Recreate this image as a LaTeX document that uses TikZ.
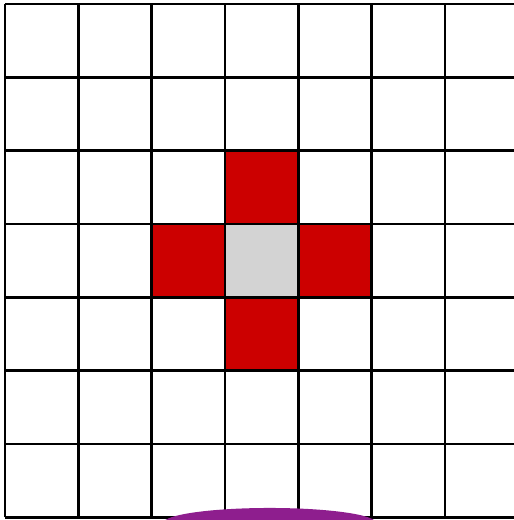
\documentclass[tikz,border=0pt]{standalone}
\usepackage{xcolor}
\usepackage{tikz}
\definecolor{cellred}{RGB}{204,0,0}
\definecolor{cellgray}{RGB}{211,211,211}
\definecolor{blobpurple}{RGB}{142,30,142}

\begin{document}
\begin{tikzpicture}[
    x=1cm, y=1cm,
    gridline/.style={line width=1pt, black},
    neighbour/.style={fill=cellred},
    centre/.style={fill=cellgray}
]

% Frame
\useasboundingbox (-0.068,-0.037) rectangle (6.941,7.055);
\clip (-0.068,-0.037) rectangle (6.941,7.055);
\fill[white] (-0.068,-0.037) rectangle (6.941,7.055);

% Cells
\fill[centre] (3,3) rectangle ++(1,1);
\foreach \cx/\cy in {3/4, 2/3, 4/3, 3/2}
    \fill[neighbour] (\cx,\cy) rectangle ++(1,1);

% Grid
\draw[gridline] (0,0) grid (7,7);

% Blob at the bottom
\fill[blobpurple] (3.61,-0.078) ellipse (1.45 and 0.205);

\end{tikzpicture}
\end{document}
